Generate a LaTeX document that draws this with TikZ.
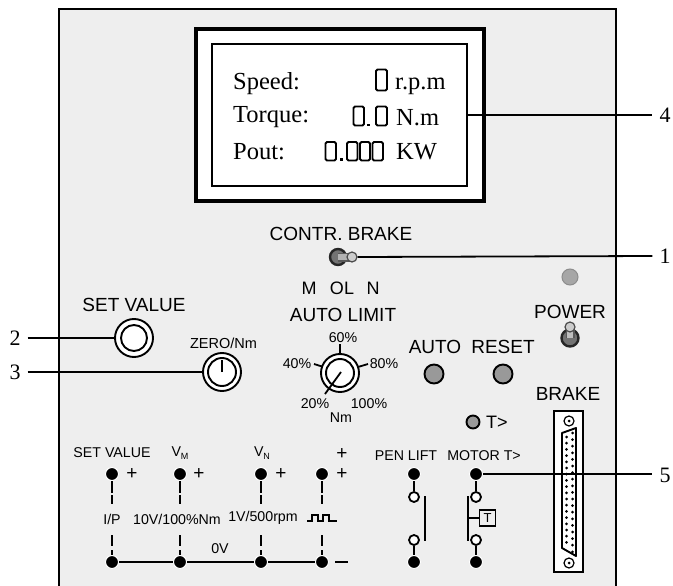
\documentclass[tikz,border=0pt]{standalone}
\usepackage{fontspec}
\setmainfont{Liberation Sans}
\newfontfamily\serifx{Liberation Serif}
\definecolor{panelc}{HTML}{EEEEEE}
\definecolor{btnc}{HTML}{999999}
\tikzset{
 big/.style={font=\fontsize{19}{19}\selectfont,inner sep=0pt},
 mid/.style={font=\fontsize{18}{18}\selectfont,inner sep=0pt},
 small/.style={font=\fontsize{14.2}{14.2}\selectfont,inner sep=0pt},
 disptext/.style={font=\serifx\fontsize{24.5}{24.5}\selectfont,inner sep=0pt,anchor=base west},
 num/.style={font=\serifx\fontsize{22}{22}\selectfont,inner ysep=0pt,inner xsep=7pt},
 seg/.style={draw=black,line width=1.9pt,rounded corners=1.5pt},
 ring/.style={circle,draw=black,line width=1.9pt,fill=white,inner sep=0pt},
 btn/.style={circle,draw=black,line width=1.9pt,fill=btnc,inner sep=0pt,minimum size=19pt},
 termf/.style={circle,draw=white,line width=1pt,fill=black,inner sep=0pt,minimum size=13pt},
 termo/.style={circle,draw=black,line width=1.8pt,fill=white,inner sep=0pt,minimum size=10pt},
 leader/.style={line width=1.8pt,draw=black},
 dashline/.style={line width=1.6pt,draw=black,dash pattern=on 12pt off 2pt on 9pt off 31pt on 11pt off 4pt on 7pt},
 wire/.style={line width=1.6pt,draw=black},
 plusmark/.style={font=\fontsize{19}{19}\selectfont,inner sep=0pt},
 screw/.style={circle,draw=black,line width=1.2pt,fill=white,inner sep=0pt,minimum size=10pt},
 screwin/.style={circle,fill=black,inner sep=0pt,minimum size=3pt},
 knob/.style={circle,draw=black!70,line width=1.2pt,fill=black!20,inner sep=0pt,minimum size=10pt},
 tbase/.style={circle,draw=black!85,line width=2.4pt,fill=black!55,inner sep=0pt,minimum size=16pt},
}
\begin{document}
\begin{tikzpicture}[x=1pt,y=-1pt]
\useasboundingbox (0,0) rectangle (673,586);
\fill[panelc] (59,9) rectangle (616,586);
\draw[line width=1.9pt] (59,586) -- (59,9) -- (616,9) -- (616,586);
% display
\node[draw=black,line width=3.4pt,fill=white,minimum width=288pt,minimum height=172pt,inner sep=0pt] (dispout) at (340,115) {};
\node[draw=black,line width=1.9pt,fill=white,minimum width=255pt,minimum height=142pt,inner sep=0pt] (dispin) at (339.5,115) {};
\node[disptext] (tspeed) at (233,90) {Speed:};
\node[disptext] (ttorque) at (233,123) {Torque:};
\node[disptext] (tpout) at (233,160) {Pout:};
\node[disptext] (urpm) at (395,90) {r.p.m};
\node[disptext] (unm) at (396,126) {N.m};
\node[disptext] (ukw) at (396,160) {KW};
\draw[seg] (376,69.5) rectangle (387,90.5);
\draw[seg] (353.5,106.5) rectangle (364,125.5);
\fill (366.5,124) rectangle (369.5,126.5);
\draw[seg] (376,106.5) rectangle (387,125.5);
\draw[seg] (325.5,142) rectangle (336,160.5);
\fill (340,158) rectangle (343,160.5);
\draw[seg] (347,142) rectangle (357.5,160.5);
\draw[seg] (360,142) rectangle (370,160.5);
\draw[seg] (372.5,142) rectangle (383,160.5);
% contr brake
\node[big] (lcontr) at (341,234) {CONTR. BRAKE};
\node[tbase] (tog1) at (338,257) {};
\draw[line width=9pt,draw=black!65] (tog1.center) -- (350,257);
\draw[line width=6.5pt,draw=black!30] (tog1.center) -- (350,257);
\node[knob] (knob1) at (352,257) {};
\node[mid] (lm) at (309,288) {M};
\node[mid] (lol) at (342,288) {OL};
\node[mid] (ln) at (373,288) {N};
\node[big] (lauto) at (343,315) {AUTO LIMIT};
% auto limit dial
\node[ring,minimum size=38pt] (dial) at (340,373) {};
\node[ring,minimum size=28pt] (dialin) at (340,373) {};
\draw[line width=1.8pt] (341,372) -- (325,394);
\draw[line width=1.8pt] (340,344) -- (340,354);
\draw[line width=1.8pt] (314,364) -- (322,366.5);
\draw[line width=1.8pt] (368,364) -- (358,367);
\node[small] (p60) at (343,338) {60\%};
\node[small] (p40) at (297,364) {40\%};
\node[small] (p80) at (384,364) {80\%};
\node[small] (p20) at (315,404) {20\%};
\node[small] (p100) at (369,404) {100\%};
\node[small] (pnm) at (341,418) {Nm};
% set value
\node[big] (lset) at (134,305) {SET VALUE};
\node[ring,minimum size=38pt] (setv) at (134,338) {};
\node[ring,minimum size=26pt] (setvin) at (134,338) {};
% zero
\node[small,font=\fontsize{14.5}{14.5}\selectfont] (lzero) at (223.5,343) {ZERO/Nm};
\node[ring,minimum size=38pt] (zero) at (222,372) {};
\node[ring,minimum size=28pt] (zeroin) at (222,372) {};
\draw[line width=1.8pt] (zeroin.center) -- (222,360);
% auto reset
\node[big] (lautob) at (435,347) {AUTO};
\node[big] (lreset) at (503,347) {RESET};
\node[btn] (bauto) at (434,374) {};
\node[btn] (breset) at (503,374) {};
% power
\node[circle,draw=black!45,line width=1pt,fill=black!35,inner sep=0pt,minimum size=16pt] (led) at (570,277) {};
\node[big] (lpower) at (570,312) {POWER};
\node[tbase,minimum size=17pt] (tog2) at (570,338) {};
\draw[line width=9pt,draw=black!65] (tog2.center) -- (570,329);
\draw[line width=6.5pt,draw=black!25] (tog2.center) -- (570,329);
\node[knob] (knob2) at (570,327) {};
\node[big] (lbrake) at (568,394) {BRAKE};
% T>
\node[circle,draw=black,line width=1.9pt,fill=btnc,inner sep=0pt,minimum size=13pt] (ledt) at (473,422) {};
\node[mid,anchor=west] (lt) at (486,422) {T>};
\node[small] (lpen) at (406,456) {PEN LIFT};
\node[small] (lmot) at (484,456) {MOTOR T>};
% switches
\node[termf] (pa) at (414,474) {};
\node[termo] (pb) at (414,497) {};
\node[termo] (pc) at (414,540) {};
\node[termf] (pd) at (414,562) {};
\draw[wire] (pa) -- (pb);
\draw[wire] (pc) -- (pd);
\draw[line width=1.8pt] (425,496) -- (425,541);
\node[termf] (ma) at (476,474) {};
\node[termo] (mb) at (476,497) {};
\node[termo] (mc) at (476,540) {};
\node[termf] (md) at (476,562) {};
\draw[wire] (ma) -- (mb);
\draw[wire] (mc) -- (md);
\draw[line width=1.8pt] (468,496) -- (468,541);
\node[draw=black,line width=1.8pt,fill=panelc,minimum size=16pt,inner sep=0pt,font=\fontsize{13}{13}\selectfont] (tbox) at (487.5,518) {T};
\draw[line width=1.6pt] (468,518) -- (tbox.west);
% connector
\node[draw=black,line width=1.9pt,fill=white,minimum width=29pt,minimum height=161pt,inner sep=0pt] (conn) at (568.5,491.5) {};
\node[screw] (s1) at (569,421) {};
\node[screwin] (s1i) at (569,421) {};
\node[screw] (s2) at (569,563) {};
\node[screwin] (s2i) at (569,563) {};
\draw[line width=1.9pt,line join=round,fill=white] (562,433) -- (576,428) -- (576,556) -- (562,548) -- cycle;
\foreach \k in {0,...,18}{
  \fill (572.5,{433+\k*6.6}) circle (1.5pt);
  \ifnum\k<18 \fill (566.5,{437+\k*6.2}) circle (1.5pt);\fi
}
% bottom terminals
\node[small] (lsv) at (112,453) {SET VALUE};
\node[small] (lvm) at (180,453) {V\raisebox{-3pt}{\fontsize{9}{9}\selectfont M}};
\node[small] (lvn) at (262,453) {V\raisebox{-3pt}{\fontsize{9}{9}\selectfont N}};
\node[plusmark] (pl) at (342,454) {+};
\node[termf] (t1) at (112,474) {};
\node[termf] (t2) at (180,474) {};
\node[termf] (t3) at (261,474) {};
\node[termf] (t4) at (322,474) {};
\node[termf] (b1) at (112,562) {};
\node[termf] (b2) at (180,562) {};
\node[termf] (b3) at (261,562) {};
\node[termf] (b4) at (322,562) {};
\node[plusmark] (p1) at (132,474) {+};
\node[plusmark] (p2) at (199,474) {+};
\node[plusmark] (p3) at (281,474) {+};
\node[plusmark] (p4) at (342,474) {+};
\coordinate (mna) at (335,562);
\coordinate (mnb) at (348,562);
\draw[line width=1.8pt] (mna) -- (mnb);
\draw[dashline] (t1) -- (b1);
\draw[dashline] (t2) -- (b2);
\draw[dashline] (t3) -- (b3);
\draw[dashline] (t4) -- (b4);
\draw[wire] (b1) -- (b2);
\draw[wire] (b2) -- (b3);
\draw[wire] (b3) -- (b4);
\node[small] (lip) at (112,519) {I/P};
\node[small] (l10) at (177,519) {10V/100\%Nm};
\node[small] (l1v) at (263,518) {1V/500rpm};
\node[small] (l0v) at (220,549) {0V};
\draw[line width=1.2pt] (307,521) -- (312,521) -- (312,515) -- (318,515) -- (318,521) -- (323,521) -- (323,515) -- (329,515) -- (329,521) -- (337,521);
% leaders
\node[num] (n4) at (665,115) {4};
\node[num] (n1) at (665,256) {1};
\node[num] (n5) at (665,475) {5};
\node[num] (n2) at (15,338) {2};
\node[num] (n3) at (15,372) {3};
\draw[leader] (dispin.east |- n4.west) -- (n4.west);
\draw[leader] (knob1.east) -- (n1.west);
\draw[leader] (ma.east) -- (ma.east -| n5.west);
\draw[leader] (n2.east) -- (setv.west);
\draw[leader] (n3.east) -- (zero.west);
\end{tikzpicture}
\end{document}
